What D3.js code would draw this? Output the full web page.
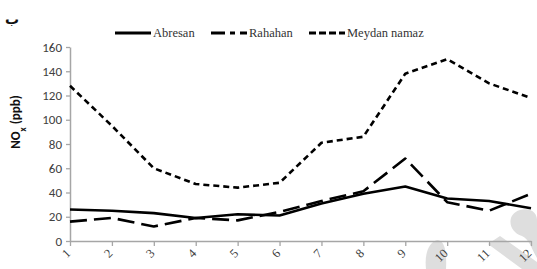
<!DOCTYPE html>
<html>
<head>
<meta charset="utf-8">
<script src="https://cdn.jsdelivr.net/npm/d3@7"></script>
<style>
  body { margin: 0; background: #fff; }
  svg { display: block; }
</style>
</head>
<body>
<svg width="537" height="269"></svg>
<script>
// months and NOx values
const months = [1, 2, 3, 4, 5, 6, 7, 8, 9, 10, 11, 12];
const abresan = [26, 25, 23, 19, 22, 21, 31, 39, 45, 35, 33, 27];
const rahahan = [16, 19, 12, 19, 17, 24, 33, 41, 68, 32, 25, 39];
const meydan = [128, 95, 60, 47, 44, 48, 81, 86, 138, 150, 130, 118];
const seriesNames = ["Abresan", "Rahahan", "Meydan namaz"];
const yTicks = [0, 20, 40, 60, 80, 100, 120, 140, 160];

const svg = d3.select("svg");

let xScale = d3.scalePoint().domain(months).range([70, 531]);
let yScale = d3.scaleLinear().domain([0, 160]).range([241, 47]);

// faint watermark shapes bottom right
const wm = svg.append("g").attr("fill", "#dedede").attr("stroke", "none");
wm.append("path").attr("d", "M426,269 C424,252 430,242 437,240 C444,240 447,250 446,269 Z");
wm.append("path").attr("d", "M488,244 L500,236 L537,262 L537,269 L522,269 Z");
wm.append("path").attr("d", "M522,236 C508,232 506,214 520,210 C532,207 537,214 537,220 L537,258 C532,250 530,240 522,236 Z");

// y axis
let yAxis = d3.axisLeft(yScale).tickValues(yTicks).tickSizeOuter(0).tickSizeInner(4).tickPadding(4);
let yAxisG = svg.append("g").attr("id", "yAxisG")
  .attr("transform", "translate(70, 0)").call(yAxis);
yAxisG.select(".domain").attr("stroke", "#a6a6a6").attr("stroke-width", 1.5);
yAxisG.selectAll(".tick line").attr("stroke", "#a6a6a6").attr("stroke-width", 1.3);
yAxisG.selectAll(".tick text")
  .attr("fill", "#404040")
  .style("font-family", "Carlito, 'Liberation Sans', sans-serif")
  .style("font-size", "13px");

// x axis
let xAxis = d3.axisBottom(xScale).tickSizeOuter(0).tickSizeInner(5).tickPadding(3);
let xAxisG = svg.append("g").attr("id", "xAxisG")
  .attr("transform", "translate(0, 241)").call(xAxis);
xAxisG.select(".domain").attr("stroke", "#a6a6a6").attr("stroke-width", 1.5);
xAxisG.selectAll(".tick line").attr("stroke", "#a6a6a6").attr("stroke-width", 1.3);
xAxisG.selectAll(".tick text")
  .attr("fill", "#404040")
  .attr("text-anchor", "end")
  .attr("x", 0).attr("y", 0).attr("dy", "0")
  .attr("transform", "translate(1, 13) rotate(-45)")
  .style("font-family", "'Liberation Serif', serif")
  .style("font-size", "12.5px");

// lines
const styles = [
  { data: abresan, dash: null },
  { data: rahahan, dash: "17,7" },
  { data: meydan, dash: "6,4" }
];

let line = d3.line()
  .x((d, i) => xScale(months[i]))
  .y(d => yScale(d));

svg.selectAll("path.series")
  .data(styles)
  .join("path")
  .attr("class", "series")
  .attr("d", d => line(d.data))
  .attr("fill", "none")
  .attr("stroke", "#000")
  .attr("stroke-width", 2.6)
  .attr("stroke-linejoin", "round")
  .attr("stroke-dasharray", d => d.dash);

// legend
const legendX = [115, 211, 309];
const legendDash = [null, "14,5,5,5", "7,3"];
const legend = svg.append("g").attr("id", "legend");
seriesNames.forEach((name, i) => {
  legend.append("line")
    .attr("x1", legendX[i]).attr("x2", legendX[i] + 36)
    .attr("y1", 33).attr("y2", 33)
    .attr("stroke", "#000")
    .attr("stroke-width", 3)
    .attr("stroke-dasharray", legendDash[i]);
  legend.append("text")
    .attr("x", legendX[i] + 38).attr("y", 37)
    .attr("fill", "#333")
    .style("font-family", "'Liberation Serif', serif")
    .style("font-size", "12.5px")
    .text(name);
});

// y axis title
const yTitle = svg.append("text")
  .attr("transform", "translate(20, 122) rotate(-90)")
  .attr("text-anchor", "middle")
  .attr("fill", "#111")
  .style("font-family", "Carlito, 'Liberation Sans', sans-serif")
  .style("font-size", "13px")
  .style("font-weight", "bold");
yTitle.append("tspan").text("NO");
yTitle.append("tspan").attr("baseline-shift", "sub").style("font-size", "9px").text("x");
yTitle.append("tspan").text(" (ppb)");

// panel letter
svg.append("text")
  .attr("x", 12).attr("y", 24)
  .attr("text-anchor", "middle")
  .attr("fill", "#111")
  .style("font-family", "'DejaVu Sans', sans-serif")
  .style("font-size", "14px")
  .style("font-weight", "bold")
  .text("ب");
</script>
</body>
</html>
